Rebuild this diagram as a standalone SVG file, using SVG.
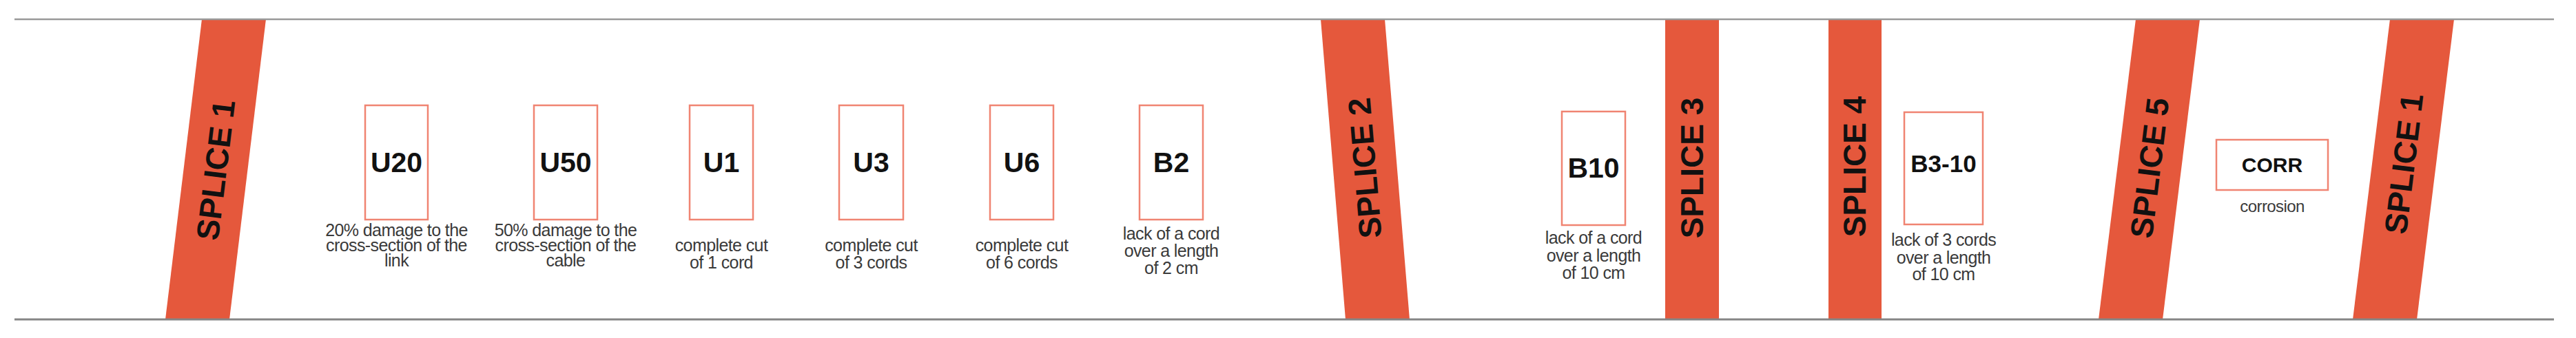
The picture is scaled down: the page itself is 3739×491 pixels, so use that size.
<svg xmlns="http://www.w3.org/2000/svg" width="3739" height="491" viewBox="0 0 3739 491">
<style>
.band{fill:#E5583C}
.sp{font-family:"Liberation Sans",Arial,sans-serif;font-weight:bold;font-size:46px;fill:#111;text-anchor:middle}
.box{fill:#fff;stroke:#F08472;stroke-width:2.5}
.lbl{font-family:"Liberation Sans",Arial,sans-serif;font-weight:bold;font-size:41px;fill:#111;text-anchor:middle}
.desc{font-family:"Liberation Sans",Arial,sans-serif;font-size:25px;fill:#3a3a3a;text-anchor:middle;letter-spacing:-0.6px}
.rail{stroke:#999;stroke-width:2.5;fill:none}
</style>
<rect width="3739" height="491" fill="#fff"/>
<g id="splices">
<g id="splice1"><polygon class="band" points="293,28 386,28 333,464 240,464"/><text class="sp" transform="translate(313,247) rotate(-83.07)" y="16">SPLICE 1</text></g>
<g id="splice2"><polygon class="band" points="1917,28 2010,28 2046,464 1953,464"/><text class="sp" transform="translate(1981,244) rotate(-94.85)" y="16">SPLICE 2</text></g>
<g id="splice3"><rect class="band" x="2417" y="28" width="78" height="436"/><text class="sp" transform="translate(2456,244) rotate(-90)" y="16">SPLICE 3</text></g>
<g id="splice4"><rect class="band" x="2654" y="28" width="77" height="436"/><text class="sp" transform="translate(2692,242) rotate(-90)" y="16">SPLICE 4</text></g>
<g id="splice5"><polygon class="band" points="3100,28 3193,28 3139,464 3046,464"/><text class="sp" transform="translate(3120,244) rotate(-83.07)" y="16">SPLICE 5</text></g>
<g id="splice1b"><polygon class="band" points="3469,28 3562,28 3508,464 3415,464"/><text class="sp" transform="translate(3489,238) rotate(-83.07)" y="16">SPLICE 1</text></g>
</g>
<g id="connectors">
<line class="rail" x1="21" y1="28" x2="3707" y2="28"/>
<line class="rail" x1="21" y1="464" x2="3707" y2="464" style="stroke:#858585;stroke-width:3"/>
</g>
<g id="U20"><rect class="box" x="530" y="153" width="91" height="166"/><text class="lbl" x="575.5" y="250">U20</text>
<text class="desc" x="575.5" y="343">20% damage to the</text><text class="desc" x="575.5" y="365">cross-section of the</text><text class="desc" x="575.5" y="387">link</text></g>
<g id="U50"><rect class="box" x="775" y="153" width="92" height="166"/><text class="lbl" x="821" y="250">U50</text>
<text class="desc" x="821" y="343">50% damage to the</text><text class="desc" x="821" y="365">cross-section of the</text><text class="desc" x="821" y="387">cable</text></g>
<g id="U1"><rect class="box" x="1001" y="153" width="92" height="166"/><text class="lbl" x="1047" y="250">U1</text>
<text class="desc" x="1047" y="365">complete cut</text><text class="desc" x="1047" y="390">of 1 cord</text></g>
<g id="U3"><rect class="box" x="1218" y="153" width="93" height="166"/><text class="lbl" x="1264.5" y="250">U3</text>
<text class="desc" x="1264.5" y="365">complete cut</text><text class="desc" x="1264.5" y="390">of 3 cords</text></g>
<g id="U6"><rect class="box" x="1437" y="153" width="92" height="166"/><text class="lbl" x="1483" y="250">U6</text>
<text class="desc" x="1483" y="365">complete cut</text><text class="desc" x="1483" y="390">of 6 cords</text></g>
<g id="B2"><rect class="box" x="1654" y="153" width="92" height="166"/><text class="lbl" x="1700" y="250">B2</text>
<text class="desc" x="1700" y="348">lack of a cord</text><text class="desc" x="1700" y="373">over a length</text><text class="desc" x="1700" y="398">of 2 cm</text></g>
<g id="B10"><rect class="box" x="2267" y="162" width="92" height="165"/><text class="lbl" x="2313" y="258">B10</text>
<text class="desc" x="2313" y="354">lack of a cord</text><text class="desc" x="2313" y="380">over a length</text><text class="desc" x="2313" y="405">of 10 cm</text></g>
<g id="B3-10"><rect class="box" x="2764" y="163" width="114" height="163"/><text class="lbl" x="2821" y="250" style="font-size:35px">B3-10</text>
<text class="desc" x="2821" y="357">lack of 3 cords</text><text class="desc" x="2821" y="383">over a length</text><text class="desc" x="2821" y="407">of 10 cm</text></g>
<g id="CORR"><rect class="box" x="3217" y="203" width="162" height="73"/><text class="lbl" x="3298" y="250" style="font-size:30px">CORR</text>
<text class="desc" x="3298" y="308" style="font-size:24px">corrosion</text></g>
</svg>
